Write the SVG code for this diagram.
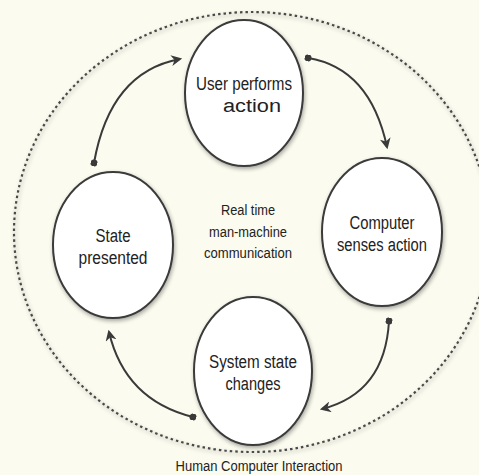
<svg xmlns="http://www.w3.org/2000/svg" width="479" height="475" viewBox="0 0 479 475">
<defs>
<style>
.node{fill:#ffffff;stroke:#3a3a3a;stroke-width:2;filter:url(#sh)}
.lbl{font-family:"Liberation Sans",Arial,sans-serif;fill:#222222;text-anchor:middle}
.big{font-size:18px}
.small{font-size:14px}
.conn{fill:none;stroke:#3a3a3a;stroke-width:2;marker-end:url(#ah);marker-start:url(#dot)}
</style>
<filter id="sh" x="-20%" y="-20%" width="140%" height="140%">
<feGaussianBlur in="SourceAlpha" stdDeviation="2"/>
<feOffset dx="1" dy="2" result="b"/>
<feComponentTransfer><feFuncA type="linear" slope="0.35"/></feComponentTransfer>
<feMerge><feMergeNode/><feMergeNode in="SourceGraphic"/></feMerge>
</filter>
<marker id="ah" viewBox="0 0 10 10" refX="8" refY="5" markerWidth="5.5" markerHeight="5.5" orient="auto" markerUnits="strokeWidth">
<path d="M0,0 L10,5 L0,10 L3,5 Z" fill="#3a3a3a"/>
</marker>
<marker id="dot" viewBox="0 0 10 10" refX="5" refY="5" markerWidth="3.5" markerHeight="3.5" orient="auto" markerUnits="strokeWidth">
<circle cx="5" cy="5" r="5" fill="#3a3a3a"/>
</marker>
</defs>
<rect width="479" height="475" fill="#fbfbef"/>
<ellipse cx="252" cy="232" rx="238" ry="220" fill="none" stroke="#4a4a4a" stroke-width="2.2" stroke-dasharray="2.5 3" filter="url(#sh)"/>
<g id="connectors">
<path class="conn" d="M94,163 Q110,72 180,59"/>
<path class="conn" d="M308,58 Q370,68 387,147"/>
<path class="conn" d="M389,321 Q385,393 322,409"/>
<path class="conn" d="M193,417 Q125,400 109,332"/>
</g>
<g id="user-performs-action">
<ellipse class="node" cx="244" cy="93" rx="59" ry="73"/>
<text class="lbl big" x="244" y="90" textLength="96" lengthAdjust="spacingAndGlyphs">User performs</text>
<text class="lbl big" x="252" y="112" textLength="58" lengthAdjust="spacingAndGlyphs">action</text>
</g>
<g id="computer-senses-action">
<ellipse class="node" cx="382" cy="232" rx="60" ry="74"/>
<text class="lbl big" x="382" y="229" textLength="65" lengthAdjust="spacingAndGlyphs">Computer</text>
<text class="lbl big" x="382" y="251" textLength="90" lengthAdjust="spacingAndGlyphs">senses action</text>
</g>
<g id="system-state-changes">
<ellipse class="node" cx="253" cy="371" rx="59" ry="74"/>
<text class="lbl big" x="253" y="368" textLength="88" lengthAdjust="spacingAndGlyphs">System state</text>
<text class="lbl big" x="253" y="390" textLength="55" lengthAdjust="spacingAndGlyphs">changes</text>
</g>
<g id="state-presented">
<ellipse class="node" cx="113" cy="245" rx="60" ry="73"/>
<text class="lbl big" x="113" y="242" textLength="35" lengthAdjust="spacingAndGlyphs">State</text>
<text class="lbl big" x="113" y="264" textLength="69" lengthAdjust="spacingAndGlyphs">presented</text>
</g>
<g id="center-label">
<text class="lbl small" x="248" y="215" textLength="54" lengthAdjust="spacingAndGlyphs">Real time</text>
<text class="lbl small" x="248" y="237" textLength="78" lengthAdjust="spacingAndGlyphs">man-machine</text>
<text class="lbl small" x="248" y="258" textLength="88" lengthAdjust="spacingAndGlyphs">communication</text>
</g>
<g id="title">
<text class="lbl small" x="259" y="471" textLength="167" lengthAdjust="spacingAndGlyphs">Human Computer Interaction</text>
</g>
</svg>
